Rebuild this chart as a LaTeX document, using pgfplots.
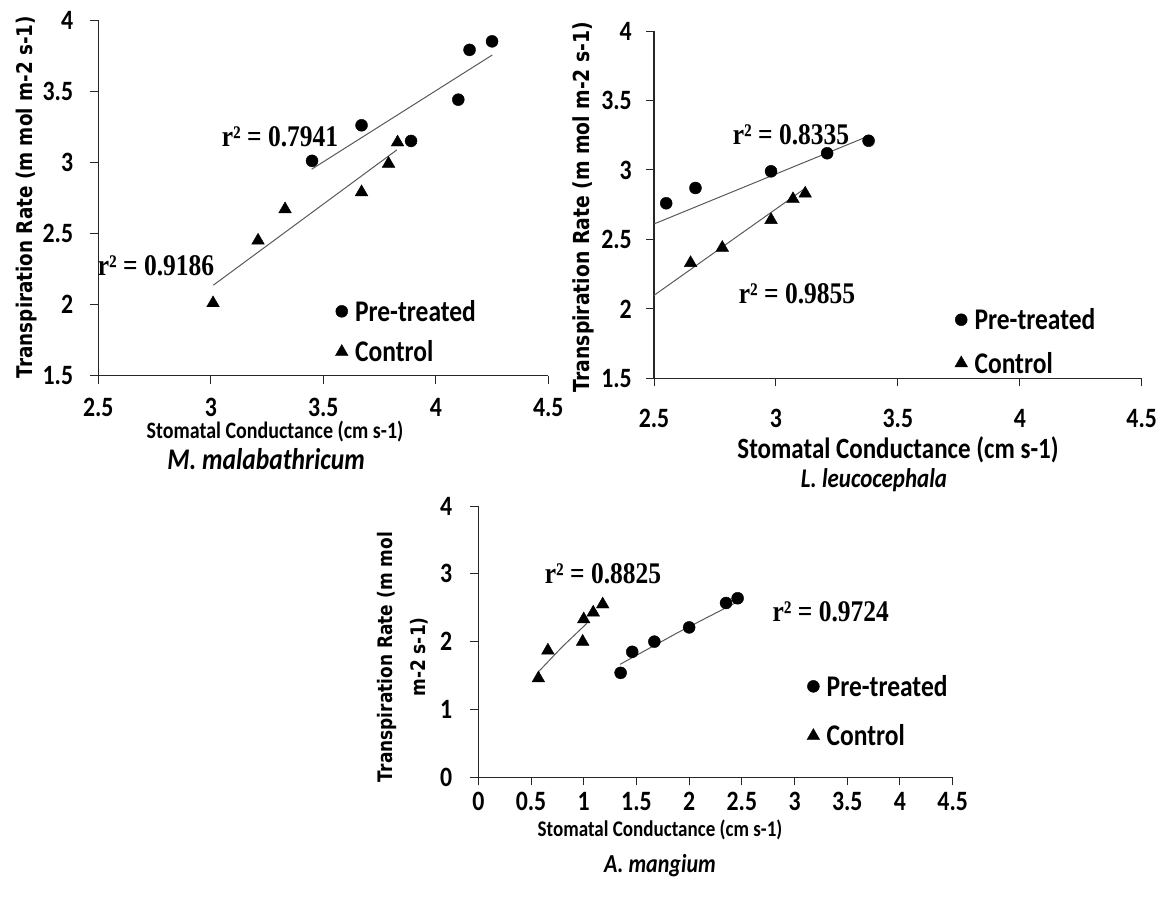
\documentclass[border=0pt]{standalone}
\usepackage{fontspec}
\setmainfont{Carlito}[FakeStretch=0.85]
\newfontfamily\dvs{DejaVu Sans}[FakeStretch=0.85]
\newfontfamily\lser{Liberation Serif}[FakeStretch=0.85]
\usepackage{pgfplots}
\pgfplotsset{compat=1.18}
\pgfplotsset{
  legend image code/.code={\draw[#1] plot coordinates {(0bp,0bp)};},
  panel/.style={
    scale only axis, anchor=south west,
    axis x line=bottom, axis y line=left,
    axis line style={-, line width=1.1bp, black!85},
    every tick/.style={line width=1bp, black!85},
    tick align=outside, major tick length=8bp,
    tick label style={font=\fontsize{28bp}{32bp}\selectfont\bfseries},
    clip=false,
    legend style={draw=none, fill=none, font=\fontsize{30bp}{34bp}\selectfont\bfseries,
      inner sep=0pt, outer sep=0pt, column sep=5bp, cells={anchor=west}},
  },
  pre/.style={only marks, mark=*, mark size=6bp, black},
  con/.style={only marks, mark=triangle*, mark size=7.3bp, black},
  trend/.style={no marks, line width=1bp, black!65, forget plot},
}
\newcommand{\rl}{\lser\bfseries\fontsize{30bp}{34bp}\selectfont}
\newcommand{\yt}{\dvs\bfseries}
\begin{document}
\begin{tikzpicture}
\path[use as bounding box] (0,0) rectangle (1163bp,-905bp);

% ---------- Panel 1 ----------
\begin{axis}[panel, at={(98.3bp,-375.7bp)}, width=450bp, height=355.7bp,
  xmin=2.5, xmax=4.5, ymin=1.5, ymax=4,
  xtick={2.5,3,3.5,4,4.5}, xticklabels={2.5,3,3.5,4,4.5},
  ytick={1.5,2,2.5,3,3.5,4}, yticklabels={1.5,2,2.5,3,3.5,4},
  xticklabel style={anchor=center, yshift=-24bp},
  yticklabel style={anchor=east, inner sep=0pt, xshift=-17bp},
  legend style={at={(axis description cs:0.527,0.124)}, anchor=west, row sep=14bp}]
\addplot[trend] coordinates {(3.448,2.951) (4.251,3.754)};
\addplot[trend] coordinates {(3.011,2.136) (3.827,3.087)};
\addplot[pre] coordinates {(3.45,3.01) (3.67,3.26) (3.89,3.15) (4.10,3.44) (4.15,3.79) (4.25,3.85)};
\addlegendentry{Pre-treated}
\addplot[con] coordinates {(3.01,2.01) (3.21,2.45) (3.33,2.67) (3.67,2.79) (3.79,2.99) (3.83,3.14)};
\addlegendentry{Control}
\end{axis}

% ---------- Panel 2 ----------
\begin{axis}[panel, at={(654bp,-378.3bp)}, width=487.7bp, height=347.3bp,
  xmin=2.5, xmax=4.5, ymin=1.5, ymax=4,
  xtick={2.5,3,3.5,4,4.5}, xticklabels={2.5,3,3.5,4,4.5},
  ytick={1.5,2,2.5,3,3.5,4}, yticklabels={1.5,2,2.5,3,3.5,4},
  xticklabel style={anchor=center, yshift=-32bp},
  yticklabel style={anchor=east, inner sep=0pt, xshift=-14bp},
  legend style={at={(axis description cs:0.617,0.106)}, anchor=west, row sep=17bp}]
\addplot[trend] coordinates {(2.5,2.611) (3.38,3.244)};
\addplot[trend] coordinates {(2.5,2.097) (3.12,2.868)};
\addplot[pre] coordinates {(2.55,2.76) (2.67,2.87) (2.98,2.99) (3.21,3.12) (3.38,3.21)};
\addlegendentry{Pre-treated}
\addplot[con] coordinates {(2.65,2.33) (2.78,2.44) (2.98,2.64) (3.07,2.79) (3.12,2.83)};
\addlegendentry{Control}
\end{axis}

% ---------- Panel 3 ----------
\begin{axis}[panel, at={(478.3bp,-777.3bp)}, width=474.4bp, height=271.3bp,
  xmin=0, xmax=4.5, ymin=0, ymax=4,
  xtick={0,0.5,1,1.5,2,2.5,3,3.5,4,4.5}, xticklabels={0,0.5,1,1.5,2,2.5,3,3.5,4,4.5},
  ytick={0,1,2,3,4}, yticklabels={0,1,2,3,4},
  xticklabel style={anchor=center, yshift=-16bp},
  yticklabel style={anchor=east, inner sep=0pt, xshift=-18bp},
  legend style={at={(axis description cs:0.693,0.244)}, anchor=west, row sep=23bp}]
\addplot[trend] coordinates {(0.573,1.56) (0.80,1.93) (1.03,2.27)};
\addplot[trend] coordinates {(1.345,1.666) (1.9,2.14) (2.462,2.59)};
\addplot[pre] coordinates {(1.35,1.54) (1.46,1.85) (1.67,2.00) (2.00,2.21) (2.35,2.57) (2.46,2.64)};
\addlegendentry{Pre-treated}
\addplot[con] coordinates {(0.57,1.46) (0.66,1.87) (0.99,2.00) (1.00,2.33) (1.09,2.43) (1.18,2.55)};
\addlegendentry{Control}
\end{axis}

% ---------- Texts ----------
\node[rotate=90, font=\yt\fontsize{21.6bp}{25bp}\selectfont] at (27bp,-197bp) {Transpiration Rate (m mol m-2 s-1)};
\node[font=\bfseries\fontsize{23.5bp}{27bp}\selectfont] at (275bp,-432bp) {Stomatal Conductance (cm s-1)};
\node[font=\bfseries\itshape\fontsize{30bp}{34bp}\selectfont] at (266bp,-459bp) {M. malabathricum};
\node[font=\rl] at (280bp,-137bp) {r² = 0.7941};
\node[font=\rl] at (156bp,-266bp) {r² = 0.9186};

\node[rotate=90, font=\yt\fontsize{22.1bp}{26bp}\selectfont] at (583bp,-207bp) {Transpiration Rate (m mol m-2 s-1)};
\node[font=\bfseries\fontsize{29.4bp}{33bp}\selectfont, inner sep=1bp] at (898bp,-450bp) {Stomatal Conductance (cm s-1)};
\node[font=\bfseries\itshape\fontsize{27bp}{31bp}\selectfont, inner sep=1bp] at (874bp,-480bp) {L. leucocephala};
\node[font=\rl] at (791bp,-135bp) {r² = 0.8335};
\node[font=\rl] at (797bp,-294bp) {r² = 0.9855};

\node[rotate=90, align=center, font=\yt\fontsize{20bp}{33bp}\selectfont] at (403bp,-657bp) {Transpiration Rate (m mol\\m-2 s-1)};
\node[font=\bfseries\fontsize{22.4bp}{26bp}\selectfont] at (660bp,-830bp) {Stomatal Conductance (cm s-1)};
\node[font=\bfseries\itshape\fontsize{25.9bp}{30bp}\selectfont] at (660bp,-866bp) {A. mangium};
\node[font=\rl] at (603bp,-574bp) {r² = 0.8825};
\node[font=\rl] at (830.7bp,-611.7bp) {r² = 0.9724};
\end{tikzpicture}
\end{document}
